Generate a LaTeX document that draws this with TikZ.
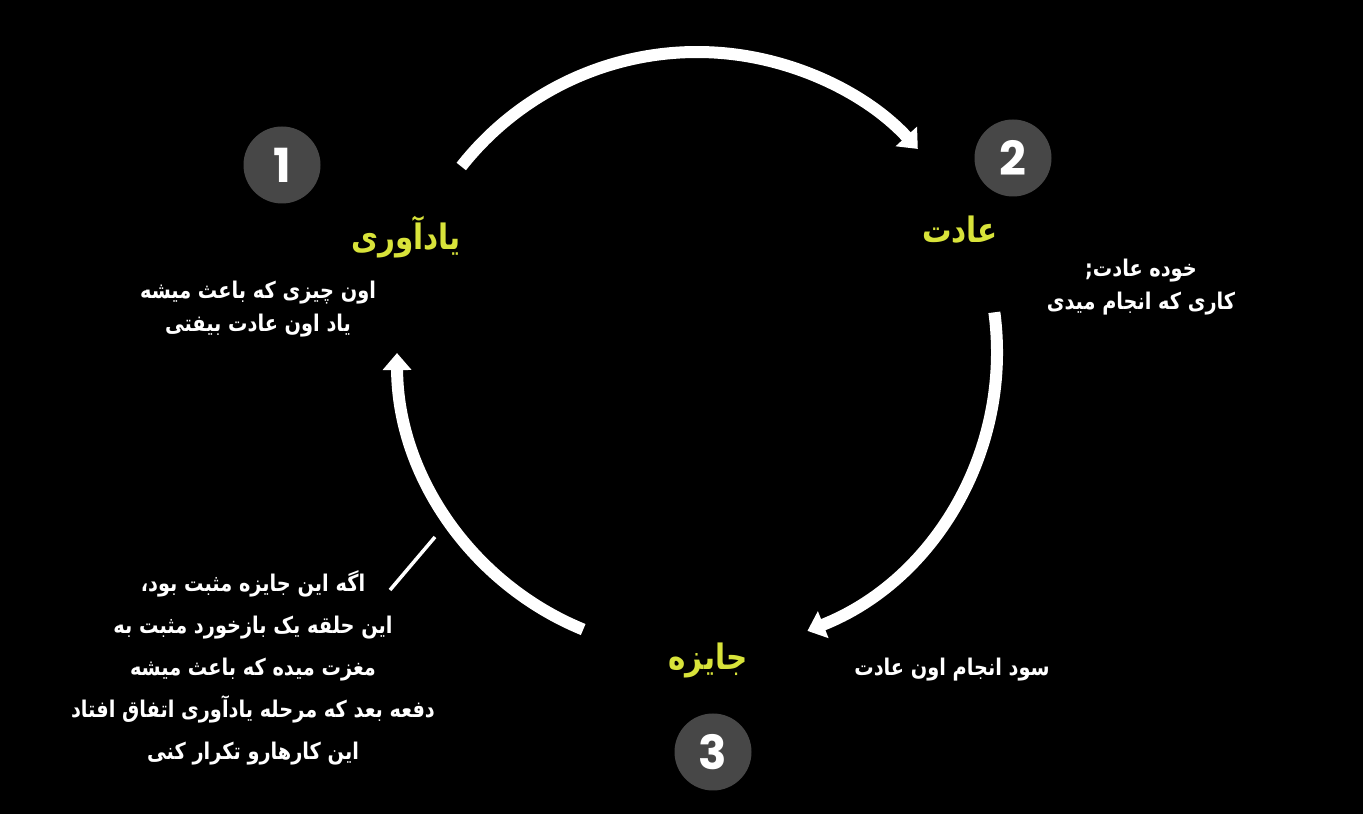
\documentclass[tikz,border=0pt]{standalone}
\usepackage{fontspec}
\usetikzlibrary{arrows.meta,calc}
\TeXXeTstate=1
\newfontfamily\fa[Script=Arabic]{DejaVu Sans}
\newfontfamily\numfont{Poppins}
\definecolor{hiyellow}{HTML}{D8E33A}
\definecolor{numgray}{HTML}{474747}
\tikzset{
  numcirc/.style={circle, fill=numgray, minimum size=77pt, inner sep=0pt, text=white, font=\numfont\bfseries\fontsize{47}{47}\selectfont},
  titletext/.style={text=hiyellow, font=\fa\bfseries\fontsize{35}{40}\selectfont, inner sep=0pt, xscale=0.84, transform shape},
  bodytext/.style={text=white, align=center, font=\fa\bfseries\fontsize{23}{33}\selectfont, inner sep=0pt, xscale=0.84, transform shape},
  paratext/.style={text=white, align=center, font=\fa\bfseries\fontsize{23}{42}\selectfont, inner sep=0pt, xscale=0.84, transform shape},
  cyc/.style={draw=white, line width=12pt, -{Triangle[width=28pt,length=17pt]}},
  pointer/.style={draw=white, line width=3.5pt}
}
\begin{document}
\begin{tikzpicture}[x=1pt,y=1pt]
\fill[black] (0,0) rectangle (1363,814);
\useasboundingbox (0,0) rectangle (1363,814);
\coordinate (c) at (697,462);
% number circles
\node[numcirc] (n1) at (282,649) {1};
\node[numcirc] (n2) at (1013,656) {2};
\node[numcirc] (n3) at (713,62) {3};
% titles
\node[titletext] (t1) at (406,577) {\beginR یادآوری\endR};
\node[titletext] (t2) at (960,584) {\beginR عادت\endR};
\node[titletext] (t3) at (708,154) {\beginR جایزه\endR};
% descriptions
\node[bodytext] (d1) at (258,505) {\beginR اون چیزی که باعث میشه\endR\\\beginR یاد اون عادت بیفتی\endR};
\node[bodytext] (d2) at (1141,527) {\beginR خوده عادت;\endR\\\beginR کاری که انجام میدی\endR};
\node[bodytext] (d3) at (952,144) {\beginR سود انجام اون عادت\endR};
\node[paratext] (d4) at (253,146) {\beginR اگه این جایزه مثبت بود،\endR\\\beginR این حلقه یک بازخورد مثبت به\endR\\\beginR مغزت میده که باعث میشه\endR\\\beginR دفعه بعد که مرحله یادآوری اتفاق افتاد\endR\\\beginR این کارهارو تکرار کنی\endR};
% cycle arcs
\coordinate (a1) at ($(c)+(141.8:300)$);
\coordinate (a2) at ($(c)+(7.6:300)$);
\coordinate (a3) at ($(c)+(247.7:300)$);
\draw[cyc] (a1) arc[start angle=141.8, end angle=42.6, radius=300];
\draw[cyc] (a2) arc[start angle=7.6, end angle=-68.4, radius=300];
\draw[cyc] (a3) arc[start angle=247.7, end angle=180.2, radius=300];
% pointer line
\coordinate (p1) at (390,224);
\coordinate (p2) at (435,277);
\draw[pointer] (p1) -- (p2);
\end{tikzpicture}
\end{document}
